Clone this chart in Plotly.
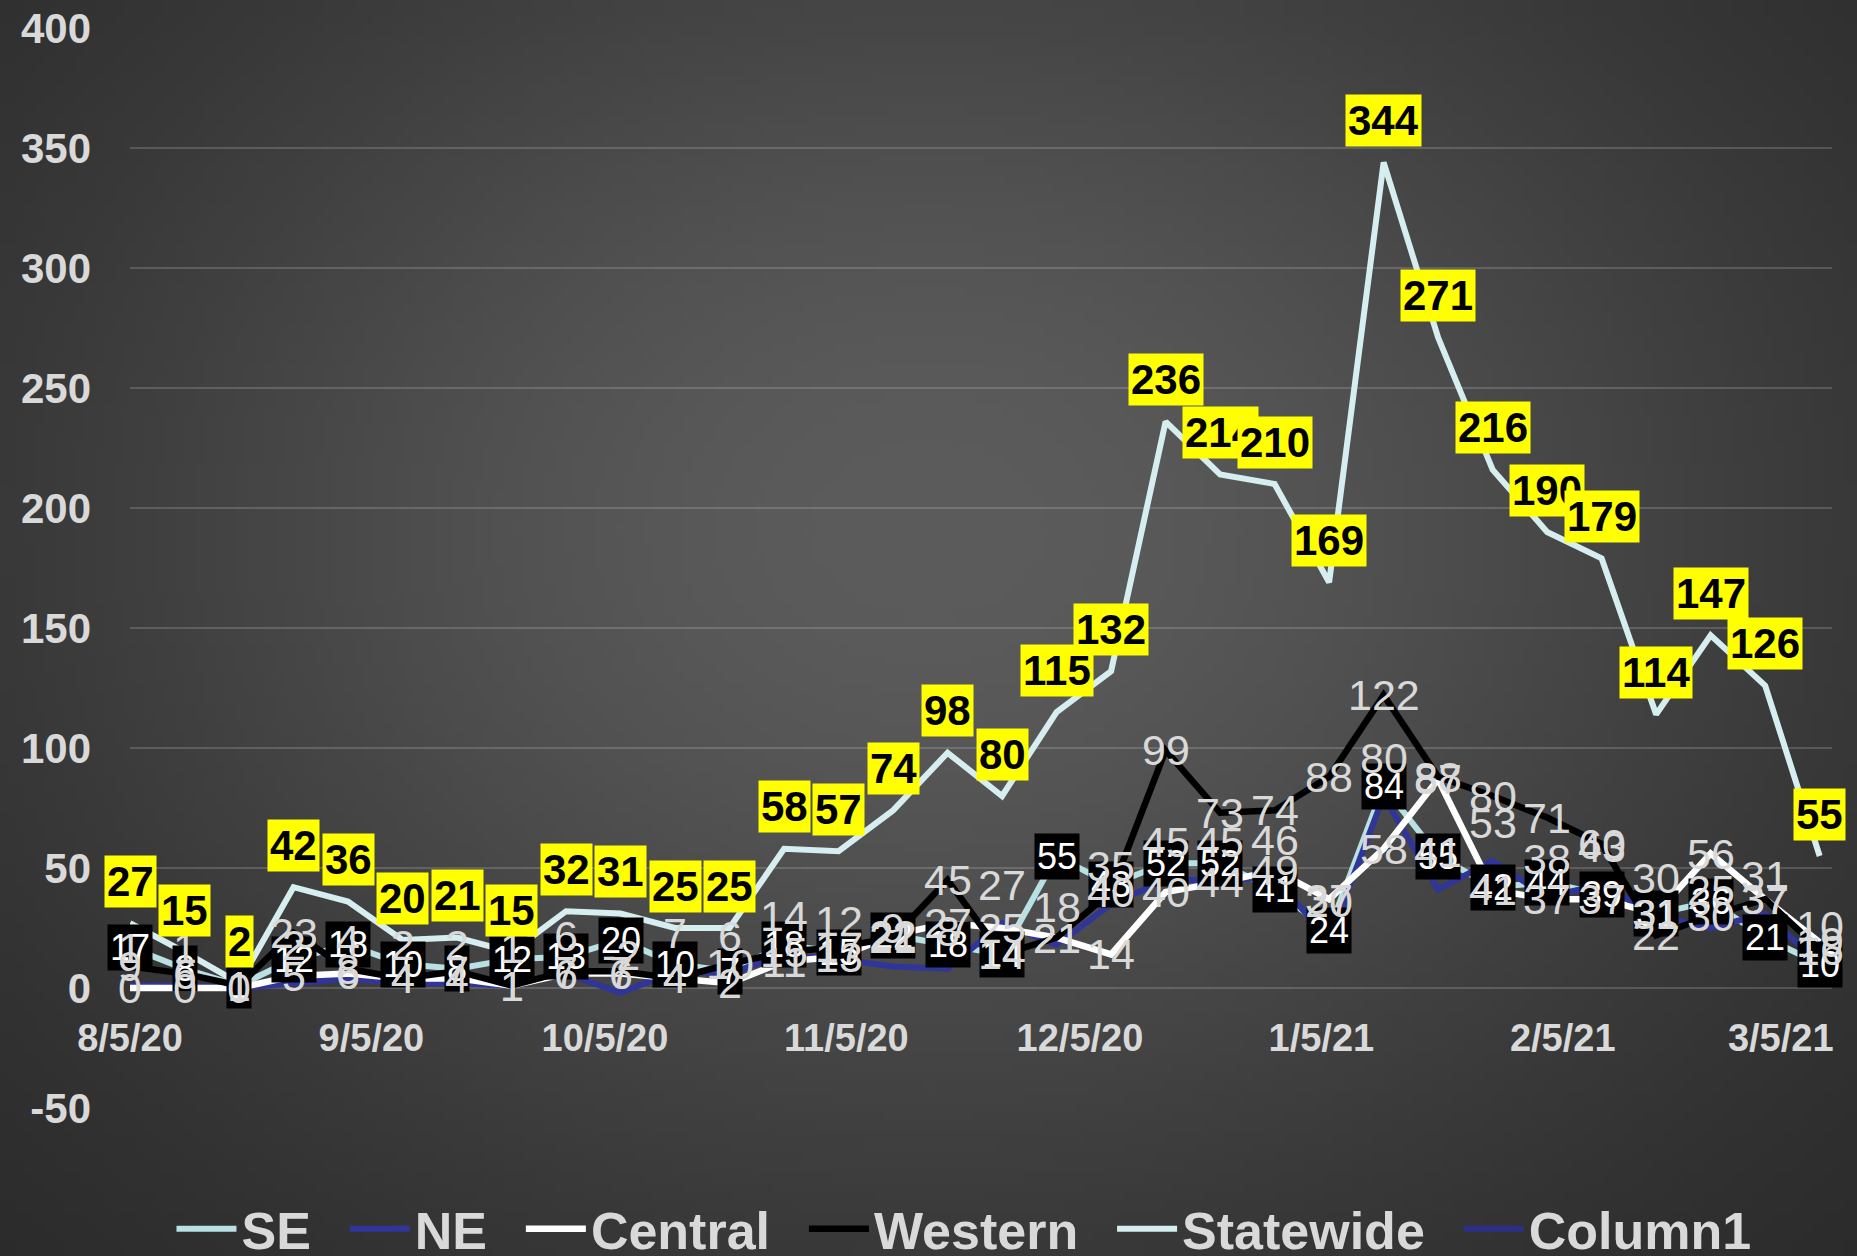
import base64
import struct
import zlib

import numpy as np
import plotly.graph_objects as go

# ---------------- data ----------------
dates = ["2020-08-05", "2020-08-12", "2020-08-19", "2020-08-26", "2020-09-02",
         "2020-09-09", "2020-09-16", "2020-09-23", "2020-09-30", "2020-10-07",
         "2020-10-14", "2020-10-21", "2020-10-28", "2020-11-04", "2020-11-11",
         "2020-11-18", "2020-11-25", "2020-12-02", "2020-12-09", "2020-12-16",
         "2020-12-23", "2020-12-30", "2021-01-06", "2021-01-13", "2021-01-20",
         "2021-01-27", "2021-02-03", "2021-02-10", "2021-02-17", "2021-02-24",
         "2021-03-03", "2021-03-10"]

se = [17, 8, 1, 12, 18, 10, 8, 12, 13, 20, 10, 7, 18, 15, 22, 18, 14, 55, 43, 52,
      52, 41, 24, 84, 55, 42, 44, 39, 31, 36, 21, 10]
ne = [1, 1, 0, 2, 4, 2, 2, 1, 6, -2, 7, 6, 14, 12, 9, 8, 27, 18, 35, 45,
      45, 46, 20, 80, 41, 53, 38, 43, 30, 25, 31, 10]
central = [0, 0, 0, 5, 6, 4, 4, 1, 6, 6, 4, 2, 11, 13, 22, 27, 25, 21, 14, 40,
           44, 49, 37, 58, 87, 41, 37, 37, 31, 56, 37, 19]
western = [9, 6, 1, 23, 8, 4, 7, 1, 7, 7, 4, 10, 15, 17, 21, 45, 14, 21, 40, 99,
           73, 74, 88, 122, 88, 80, 71, 60, 22, 30, 37, 16]
statewide = [27, 15, 2, 42, 36, 20, 21, 15, 32, 31, 25, 25, 58, 57, 74, 98, 80,
             115, 132, 236, 214, 210, 169, 344, 271, 216, 190, 179, 114, 147, 126, 55]

series_names = ["SE", "NE", "Central", "Western", "Statewide", "Column1"]

y_tickvals = [-50, 0, 50, 100, 150, 200, 250, 300, 350, 400]
y_ticktext = ["-50", "0", "50", "100", "150", "200", "250", "300", "350", "400"]

y_range = [-50, 400]
x_range = ["2020-08-05", "2021-03-11 14:00"]

# ---------------- styles ----------------
W, H = 1857, 1256
ML, MR, MT, MB = 130, 25, 28, 148
FONT = "Arial, Liberation Sans, sans-serif"
GRAY = "#D9D9D9"

C_SE = "#B9E0E2"
C_NE = "#30359A"
C_CEN = "#FFFFFF"
C_WES = "#000000"
C_STATE = "#D6EEF0"
C_COL1 = "#2C2F88"
PAD = "\u00a0\u00a0"   # extra spacing after legend names


def gradient_png(w=186, h=126):
    yy, xx = np.mgrid[0:h, 0:w]
    nx = (xx / (w - 1) - 0.5) / 0.62
    ny = (yy / (h - 1) - 0.42) / 0.72
    r2 = nx ** 2 + ny ** 2
    v = 36 + 56 * np.exp(-1.5 * r2)
    v = np.clip(v, 0, 255).astype(np.uint8)
    img = np.stack([v, v, v], axis=-1)
    raw = b"".join(b"\x00" + img[i].tobytes() for i in range(h))

    def chunk(tag, data):
        c = struct.pack(">I", len(data)) + tag + data
        return c + struct.pack(">I", zlib.crc32(tag + data) & 0xFFFFFFFF)

    png = b"\x89PNG\r\n\x1a\n"
    png += chunk(b"IHDR", struct.pack(">IIBBBBB", w, h, 8, 2, 0, 0, 0))
    png += chunk(b"IDAT", zlib.compress(raw, 9))
    png += chunk(b"IEND", b"")
    return "data:image/png;base64," + base64.b64encode(png).decode()


fig = go.Figure()

series = [
    (series_names[0], se, C_SE, 6),
    (series_names[1], ne, C_NE, 6),
    (series_names[2], central, C_CEN, 6.5),
    (series_names[3], western, C_WES, 6.5),
    (series_names[4], statewide, C_STATE, 6),
]
for name, vals, col, wd in series:
    fig.add_trace(go.Scatter(x=dates, y=vals, name=name + PAD, mode="lines",
                             line=dict(color=col, width=wd)))
fig.add_trace(go.Scatter(x=[None], y=[None], name=series_names[5], mode="lines",
                         line=dict(color=C_COL1, width=6)))

annotations = []
# SE: black box, white text, centered
for d, v in zip(dates, se):
    annotations.append(dict(x=d, y=v, text=str(v), showarrow=False,
                            font=dict(family=FONT, size=36, color="#FFFFFF"),
                            bgcolor="#000000", borderpad=2))
# NE: gray text above
for d, v in zip(dates, ne):
    annotations.append(dict(x=d, y=v, text=str(v), showarrow=False, yshift=38,
                            font=dict(family=FONT, size=43, color=GRAY)))
# Central: gray text centered
for d, v in zip(dates, central):
    annotations.append(dict(x=d, y=v, text=str(v), showarrow=False,
                            font=dict(family=FONT, size=43, color=GRAY)))
# Western: gray text centered
for d, v in zip(dates, western):
    annotations.append(dict(x=d, y=v, text=str(v), showarrow=False,
                            font=dict(family=FONT, size=43, color=GRAY)))
# Statewide: yellow box, bold black text, above
for d, v in zip(dates, statewide):
    annotations.append(dict(x=d, y=v, text=str(v), showarrow=False, yshift=42,
                            font=dict(family=FONT, size=42, color="#000000",
                                      weight="bold"),
                            bgcolor="#FFFF00", borderpad=2))

pw = W - ML - MR
ph = H - MT - MB
zero_pos = (0 - y_range[0]) / (y_range[1] - y_range[0])

fig.update_layout(
    width=W, height=H,
    margin=dict(l=ML, r=MR, t=MT, b=MB, autoexpand=False),
    paper_bgcolor="#3A3A3A",
    plot_bgcolor="rgba(0,0,0,0)",
    showlegend=True,
    hovermode=False,
    annotations=annotations,
    images=[dict(source=gradient_png(), xref="paper", yref="paper",
                 x=-ML / pw, y=1 + MT / ph, sizex=W / pw, sizey=H / ph,
                 xanchor="left", yanchor="top", sizing="stretch", layer="below")],
    legend=dict(orientation="h", x=0.49, xanchor="center", y=-0.112,
                yanchor="middle", bgcolor="rgba(0,0,0,0)",
                font=dict(family=FONT, size=52, color=GRAY, weight="bold"),
                itemwidth=60, tracegroupgap=0),
    xaxis=dict(type="date", range=x_range, tick0="2020-08-05", dtick="M1",
               tickformat="%-m/%-d/%y", showgrid=False, zeroline=False,
               showline=False, ticks="", anchor="free", position=zero_pos,
               ticklabelstandoff=24, automargin=False,
               tickfont=dict(family=FONT, size=38, color=GRAY, weight="bold")),
    yaxis=dict(range=y_range, tickmode="array", tickvals=y_tickvals,
               ticktext=y_ticktext, showgrid=True,
               gridcolor="rgba(255,255,255,0.16)", gridwidth=1.5,
               zeroline=True, zerolinecolor="rgba(255,255,255,0.16)",
               zerolinewidth=1.5, showline=False, ticks="",
               ticklabelstandoff=38, automargin=False,
               tickfont=dict(family=FONT, size=42, color=GRAY, weight="bold")),
)

fig.write_html("out.html", config={"displayModeBar": False},
               post_script="document.body.style.margin='0px';"
                           "document.body.style.overflow='hidden';")
